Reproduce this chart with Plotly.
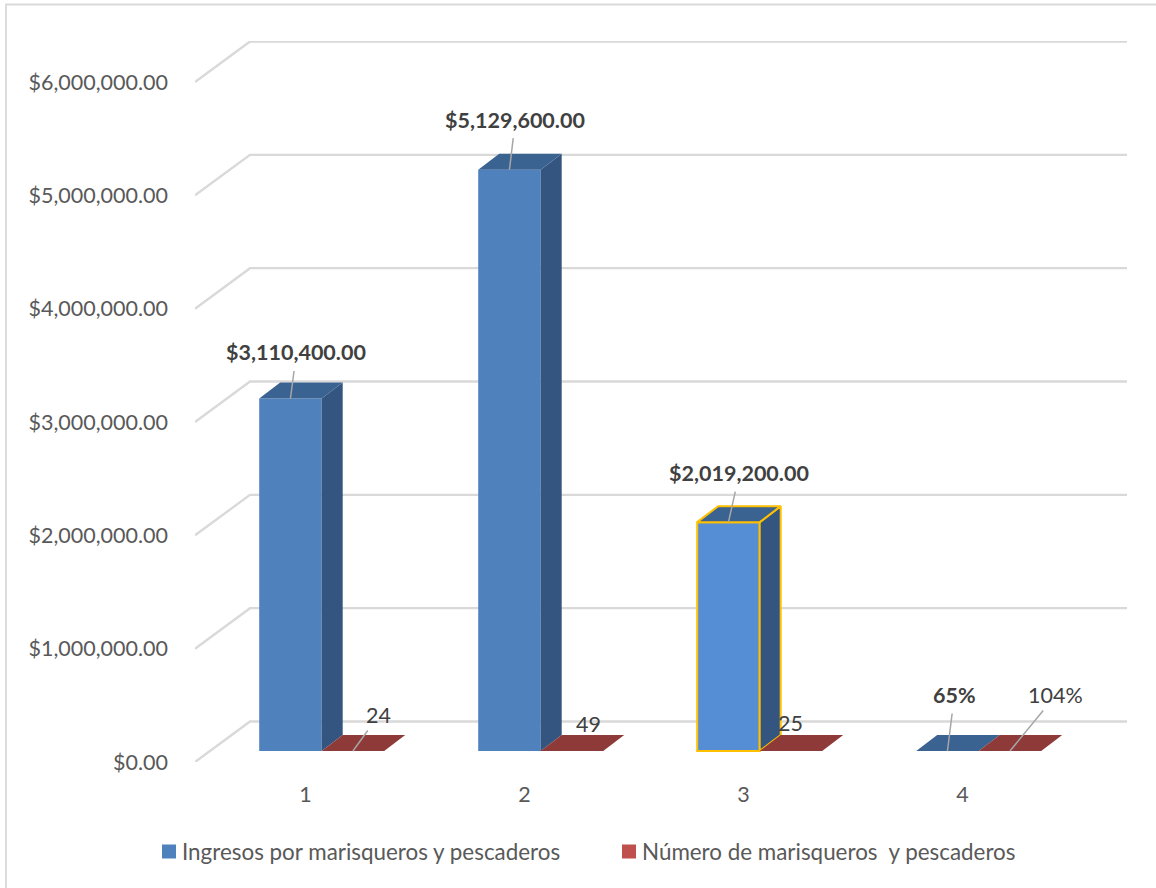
import plotly.graph_objects as go

# ---- data ----
categories = [1, 2, 3, 4]
series_names = ["Ingresos por marisqueros y pescaderos", "Número de marisqueros  y pescaderos"]
ingresos = [3110400, 5129600, 2019200, 0.65]
numero = [24, 49, 25, 1.04]
ingresos_labels = ["$3,110,400.00", "$5,129,600.00", "$2,019,200.00", "65%"]
numero_labels = ["24", "49", "25", "104%"]
y_ticks = [0, 1000000, 2000000, 3000000, 4000000, 5000000, 6000000]

# ---- geometry (pixels of the frame, converted to axis units) ----
W, H = 1156, 888
L, R, T, B = 195, 1127, 41, 762
PX_PER_Y = 680 / 6000000
PX_PER_X = 219.0
X0 = 1 - (305.5 - L) / PX_PER_X
X1 = 1 + (R - 305.5) / PX_PER_X
Y1 = (B - T) / PX_PER_Y
ux = lambda px: px / PX_PER_X
uy = lambda px: px / PX_PER_Y

WALL_DX, WALL_DY = ux(55), uy(40.5)
BAR_W = ux(62.5)
BAR_DX, BAR_DY = ux(21), uy(16)
BASE = uy(11)
JOIN = ux(16.2)

BLUE, BLUE_SEL, BLUE_SIDE, BLUE_TOP = "#4F81BD", "#558ED5", "#34557F", "#3B6391"
RED, RED_TOP = "#C0504D", "#8E3A39"
GOLD = "#FFC000"
GRID = "#D9D9D9"
FONT = "Lato"
TXT = "#595959"
LBL = "#404040"

fig = go.Figure()

# front faces
fig.add_trace(go.Bar(
    x=categories, y=ingresos, base=BASE, width=BAR_W, offset=JOIN - BAR_W,
    name=series_names[0],
    marker=dict(color=[BLUE, BLUE, BLUE_SEL, BLUE_TOP],
                line=dict(color=[BLUE, BLUE, GOLD, BLUE_TOP], width=[0, 0, 2, 0])),
    showlegend=False, hoverinfo="skip",
))
fig.add_trace(go.Bar(
    x=categories, y=numero, base=BASE, width=BAR_W, offset=JOIN,
    name=series_names[1],
    marker=dict(color=RED_TOP, line=dict(width=0)),
    showlegend=False, hoverinfo="skip",
))


def poly(xs, ys, fill, line_color=None, width=0):
    fig.add_trace(go.Scatter(
        x=xs + xs[:1], y=ys + ys[:1], mode="lines", fill="toself", fillcolor=fill,
        line=dict(color=line_color or fill, width=width if line_color else 0),
        showlegend=False, hoverinfo="skip",
    ))


# sides and tops of every column, derived from the values
for i, (c, v) in enumerate(zip(categories, ingresos)):
    l, r = c + JOIN - BAR_W, c + JOIN
    t = v + BASE
    edge = GOLD if i == 2 else None
    w = 2 if i == 2 else 0
    poly([r, r + BAR_DX, r + BAR_DX, r], [BASE, BASE + BAR_DY, t + BAR_DY, t], BLUE_SIDE, edge, w)
    poly([l, r, r + BAR_DX, l + BAR_DX], [t, t, t + BAR_DY, t + BAR_DY], BLUE_TOP, edge, w)
for c, v in zip(categories, numero):
    l, r = c + JOIN, c + JOIN + BAR_W
    t = v + BASE
    poly([l, r, r + BAR_DX, l + BAR_DX], [t, t, t + BAR_DY, t + BAR_DY], RED_TOP)

# legend keys
fig.add_trace(go.Bar(x=[None], y=[None], name=series_names[0],
                     marker=dict(color=BLUE, line=dict(color=BLUE, width=2))))
fig.add_trace(go.Bar(x=[None], y=[None], name=series_names[1],
                     marker=dict(color=RED, line=dict(color=RED, width=2))))

# back wall and floor grid lines
shapes = []
for v in y_ticks:
    path = (f"M {X0},{v} L {X0 + WALL_DX},{v + WALL_DY} L {X1},{v + WALL_DY}")
    shapes.append(dict(type="path", path=path, xref="x", yref="y", layer="below",
                       line=dict(color=GRID, width=2.4)))

# chart frame
px_x = lambda p: (p - L) / (R - L)
px_y = lambda p: (B - p) / (B - T)
shapes.append(dict(type="path", xref="paper", yref="paper", layer="below",
                   path=f"M {px_x(6)},{px_y(888)} L {px_x(6)},{px_y(4.5)} L {px_x(1156)},{px_y(4.5)}",
                   line=dict(color=GRID, width=1.8)))

# data labels with leader lines (offsets in screen pixels)
ing_off = [(6, -46), (6, -50), (11, -49), (7, -56)]
num_off = [(26, -36), (17, -27), (0, -28), (46, -56)]
num_lead = [True, False, False, True]
ann = []
for c, v, s, (ax, ay) in zip(categories, ingresos, ingresos_labels, ing_off):
    ann.append(dict(x=c + JOIN - BAR_W / 2, y=v + BASE, text=f"<b>{s}</b>", ax=ax, ay=ay,
                    showarrow=True, arrowhead=0, arrowwidth=1.5, arrowcolor="#A6A6A6",
                    borderpad=5, font=dict(family=FONT, size=21.5, color=LBL)))
for c, v, s, (ax, ay), lead in zip(categories, numero, numero_labels, num_off, num_lead):
    ann.append(dict(x=c + JOIN + BAR_W / 2, y=v + BASE, text=s, ax=ax, ay=ay,
                    showarrow=True, arrowhead=0, arrowwidth=1.5,
                    arrowcolor="#A6A6A6" if lead else "rgba(0,0,0,0)",
                    borderpad=2, font=dict(family=FONT, size=21.5, color=LBL)))

fig.update_layout(
    width=W, height=H, autosize=False,
    margin=dict(l=L, r=W - R, t=T, b=H - B, pad=0),
    paper_bgcolor="white", plot_bgcolor="white",
    font=dict(family=FONT, size=21.5, color=TXT),
    barmode="overlay",
    shapes=shapes, annotations=ann,
    xaxis=dict(range=[X0, X1], tickmode="array", tickvals=categories, ticktext=[str(c) for c in categories],
               showgrid=False, zeroline=False, showline=False, ticks="", ticklabelstandoff=17,
               tickfont=dict(family=FONT, size=21.5, color=TXT), fixedrange=True),
    yaxis=dict(range=[0, Y1], tickmode="array", tickvals=y_ticks, tickformat="$,.2f",
               showgrid=False, zeroline=False, showline=False, ticks="", ticklabelstandoff=26,
               tickfont=dict(family=FONT, size=21.5, color=TXT), fixedrange=True),
    legend=dict(orientation="h", x=px_x(142), xanchor="left", y=px_y(852), yanchor="middle",
                entrywidth=415, entrywidthmode="pixels", bgcolor="rgba(0,0,0,0)",
                traceorder="normal", font=dict(family=FONT, size=22.4, color=TXT)),
)

fig.write_html("out.html", config=dict(displayModeBar=False),
               post_script="document.body.style.margin='0';document.body.style.overflow='hidden';"
                           "document.querySelectorAll('.legendsymbols').forEach(g=>g.setAttribute('transform','translate(7,0)'));")
